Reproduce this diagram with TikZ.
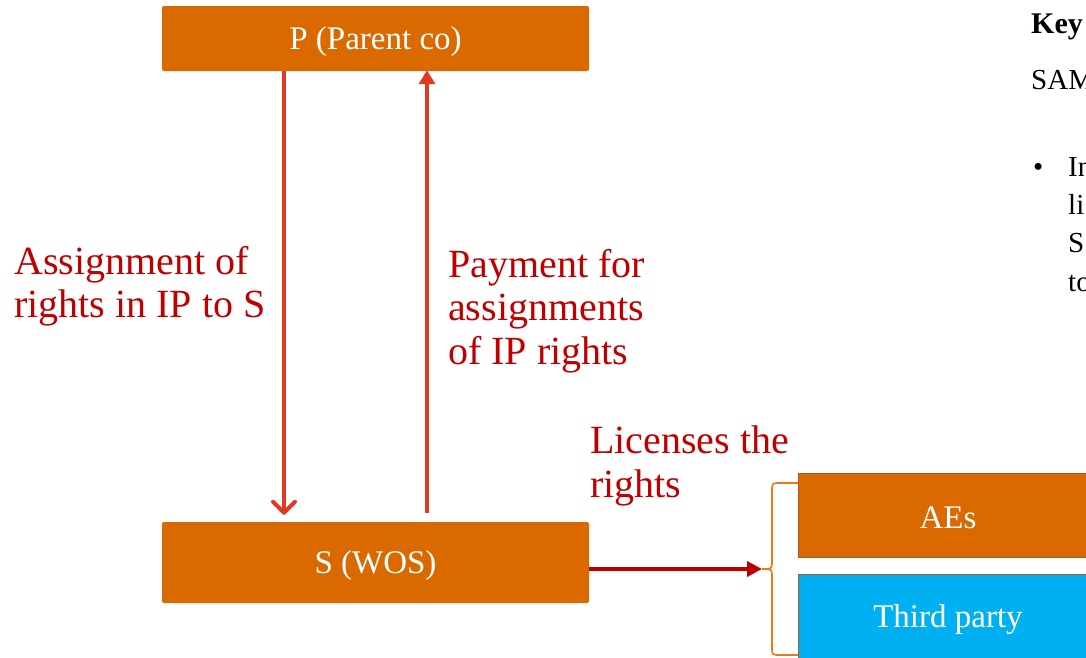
\documentclass[tikz,border=0pt]{standalone}
\usepackage{fontspec}
\setmainfont{Liberation Serif}
\usetikzlibrary{arrows.meta}

\definecolor{boxorange}{RGB}{218,106,0}
\definecolor{boxedge}{RGB}{170,90,40}
\definecolor{flowred}{RGB}{224,58,36}
\definecolor{darkred}{RGB}{192,0,0}
\definecolor{skyblue}{RGB}{0,176,240}
\definecolor{braceorange}{RGB}{232,122,20}

\tikzset{
  entity/.style={fill=boxorange, rounded corners=2pt, inner sep=0pt},
  boxtext/.style={text=white, font=\fontsize{33}{38}\selectfont, inner sep=0pt},
  partybox/.style={draw=boxedge, line width=0.8pt, inner sep=0pt, anchor=north west},
  flowlabel/.style={text=darkred, align=left, inner sep=0pt, anchor=north west,
    font=\fontsize{40}{43.5}\selectfont},
  keytext/.style={inner sep=0pt, anchor=base west, font=\fontsize{29}{38}\selectfont},
  flow/.style={draw=flowred, line width=4pt},
  licence/.style={draw=darkred, line width=4pt},
}

\begin{document}
\begin{tikzpicture}[x=1pt,y=-1pt]
  \useasboundingbox (0,0) rectangle (1086,657);
  \clip (0,0) rectangle (1086,657);

  % parent and subsidiary
  \node[entity, minimum width=427pt, minimum height=65pt] (P) at (375.5,38.5) {};
  \node[boxtext] (Pt) at (375.5,42) {P (Parent co)};
  \node[entity, minimum width=427pt, minimum height=81pt] (S) at (375.5,562.5) {};
  \node[boxtext] (St) at (375.5,566) {S (WOS)};

  % assignment down, payment up
  \draw[flow, -{Straight Barb[length=11pt,width=22pt,line width=4pt,round]}]
    ([xshift=-91.5pt]P.south) -- ([xshift=-91.5pt,yshift=7pt]S.north);
  \draw[flow, -{Triangle[length=14pt,width=16pt]}]
    ([xshift=51.5pt,yshift=9pt]S.north) -- ([xshift=51.5pt,yshift=1pt]P.south);

  \node[flowlabel] (assign) at (14,246) {Assignment of\\rights in IP to S};
  \node[flowlabel] (pay) at (448,249) {Payment for\\assignments\\of IP rights};
  \node[flowlabel] (lic) at (590,426) {Licenses the\\rights};

  % licensees
  \node[partybox, fill=boxorange, minimum width=300pt, minimum height=84pt] (AE) at (798,473) {};
  \node[boxtext] (AEt) at (948,518) {AEs};
  \node[partybox, fill=skyblue, minimum width=300pt, minimum height=90pt] (TP) at (798,574) {};
  \node[boxtext] (TPt) at (948,620) {Third party};

  % bracket grouping the licensees
  \coordinate (tip) at (762,569);
  \draw[braceorange, line width=1.6pt]
    (AE.north west |- 0,483) -- (780,483) .. controls (772,483) .. (772,491)
    -- (772,561) .. controls (772,569) .. (tip)
    .. controls (772,569) .. (772,577) -- (772,647)
    .. controls (772,655) .. (780,655) -- (798,655);

  \draw[licence, -{Triangle[length=15pt,width=15pt]}]
    ([yshift=-6.5pt]S.east) -- (tip);

  % key text at the right edge
  \node[keytext, font=\fontsize{30}{38}\selectfont\bfseries] (key) at (1031,33) {Key};
  \node[keytext] (sam) at (1031,89) {SAM};
  \node[keytext] (bul) at (1033,176) {•};
  \node[keytext] (l1) at (1068,176) {In};
  \node[keytext] (l2) at (1068,214) {li};
  \node[keytext] (l3) at (1068,252) {S};
  \node[keytext] (l4) at (1068,291) {to};
\end{tikzpicture}
\end{document}
